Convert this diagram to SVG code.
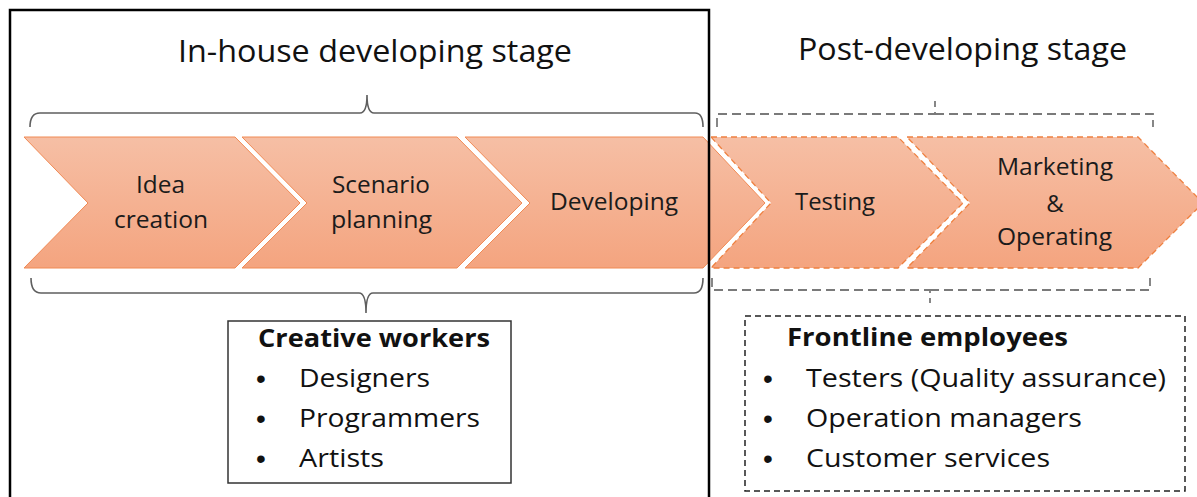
<svg xmlns="http://www.w3.org/2000/svg" width="1197" height="497" viewBox="0 0 1197 497">
<defs>
<linearGradient id="og" x1="0" y1="0" x2="0" y2="1">
<stop offset="0" stop-color="#F6BFA5"/>
<stop offset="1" stop-color="#F4A47F"/>
</linearGradient>
<style>
.chev{fill:url(#og);stroke:#F08A55;stroke-width:1}
.chevd{fill:url(#og);stroke:#EE8040;stroke-width:1.3;stroke-dasharray:6 4}
text{font-family:"Open Sans",Lato,sans-serif}
.lbl{font-size:24px;fill:#1b1b1b}
.title{font-size:31px;fill:#111}
.bt{font-size:25px;fill:#111}
.bb{font-size:25px;font-weight:bold;fill:#111}
.bul{font-family:"Liberation Sans",Arial,sans-serif;font-size:28px;fill:#111}
.brace{fill:none;stroke:#5f5f5f;stroke-width:1.6}
.dbrace{fill:none;stroke:#7a7a7a;stroke-width:1.8;stroke-dasharray:9 5}
</style>
</defs>
<rect width="1197" height="497" fill="#fff"/>

<g id="titles">
<text class="title" x="178" y="62" textLength="394" lengthAdjust="spacingAndGlyphs">In-house developing stage</text>
<text class="title" x="798" y="60" textLength="329" lengthAdjust="spacingAndGlyphs">Post-developing stage</text>
</g>

<g id="chevron-idea">
<polygon class="chev" points="24,137 235,137 300,203 235,268 24,268 88,203"/>
<text class="lbl" x="136" y="193" textLength="49" lengthAdjust="spacingAndGlyphs">Idea</text>
<text class="lbl" x="114" y="228" textLength="94" lengthAdjust="spacingAndGlyphs">creation</text>
</g>
<g id="chevron-scenario">
<polygon class="chev" points="242,137 457,137 522,203 457,268 242,268 307,203"/>
<text class="lbl" x="332" y="193" textLength="98" lengthAdjust="spacingAndGlyphs">Scenario</text>
<text class="lbl" x="331" y="228" textLength="101" lengthAdjust="spacingAndGlyphs">planning</text>
</g>
<g id="chevron-developing">
<polygon class="chev" points="465,137 703,137 765,203 703,268 465,268 530,203"/>
<text class="lbl" x="550" y="210" textLength="128" lengthAdjust="spacingAndGlyphs">Developing</text>
</g>
<g id="chevron-testing">
<polygon class="chevd" points="711,137 898,137 963,203 898,268 711,268 771,203"/>
<text class="lbl" x="795" y="210" textLength="80" lengthAdjust="spacingAndGlyphs">Testing</text>
</g>
<g id="chevron-marketing">
<polygon class="chevd" points="907,137 1138,137 1203,203 1138,268 907,268 970,203"/>
<text class="lbl" x="997" y="175" textLength="116" lengthAdjust="spacingAndGlyphs">Marketing</text>
<text class="lbl" x="1055" y="212" text-anchor="middle">&amp;</text>
<text class="lbl" x="997" y="245" textLength="115" lengthAdjust="spacingAndGlyphs">Operating</text>
</g>

<g id="connectors">
<path class="brace" d="M30,127 Q30,113 40,113 L360,113 Q367,113 367,95 Q367,113 374,113 L695,113 Q703,113 703,127"/>
<path class="brace" d="M31,278 Q31,293 41,293 L359,293 Q366,293 366,313 Q366,293 373,293 L694,293 Q703,293 703,278"/>
<path class="dbrace" d="M717,127 L717,114 L935,114 L935,101 M935,114 L1153,114 L1153,127"/>
<path class="dbrace" d="M712,278 L712,290 L930,290 L930,303 M930,290 L1150,290 L1150,278"/>
</g>

<g id="inhouse-frame">
<rect x="10" y="10" width="699" height="500" fill="none" stroke="#000" stroke-width="2.5"/>
</g>

<g id="creative-workers">
<rect x="228" y="321" width="283" height="162" fill="#fff" stroke="#333" stroke-width="1.5"/>
<text class="bb" x="258" y="347" textLength="232" lengthAdjust="spacingAndGlyphs">Creative workers</text>
<text class="bul" x="256" y="388">•</text>
<text class="bt" x="299" y="387" textLength="131" lengthAdjust="spacingAndGlyphs">Designers</text>
<text class="bul" x="256" y="428">•</text>
<text class="bt" x="299" y="427" textLength="181" lengthAdjust="spacingAndGlyphs">Programmers</text>
<text class="bul" x="256" y="468">•</text>
<text class="bt" x="299" y="467" textLength="85" lengthAdjust="spacingAndGlyphs">Artists</text>
</g>

<g id="frontline-employees">
<rect x="745" y="316" width="440" height="175" fill="#fff" stroke="#222" stroke-width="1.5" stroke-dasharray="6 4"/>
<text class="bb" x="787" y="346" textLength="281" lengthAdjust="spacingAndGlyphs">Frontline employees</text>
<text class="bul" x="763" y="388">•</text>
<text class="bt" x="806" y="387" textLength="360" lengthAdjust="spacingAndGlyphs">Testers (Quality assurance)</text>
<text class="bul" x="763" y="428">•</text>
<text class="bt" x="806" y="427" textLength="276" lengthAdjust="spacingAndGlyphs">Operation managers</text>
<text class="bul" x="763" y="468">•</text>
<text class="bt" x="806" y="467" textLength="244" lengthAdjust="spacingAndGlyphs">Customer services</text>
</g>
</svg>
